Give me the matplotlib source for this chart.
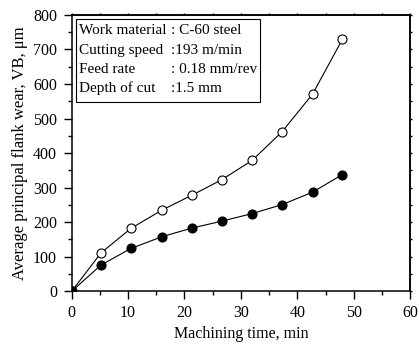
import matplotlib
matplotlib.use('Agg')
from matplotlib import pyplot as plt
from matplotlib.patches import Rectangle
from matplotlib.ticker import MultipleLocator, NullFormatter

plt.rcParams['font.family'] = ['Liberation Serif', 'DejaVu Serif']

# machining time, min
time = [0, 5.2, 10.5, 16.0, 21.3, 26.6, 32.0, 37.3, 42.7, 48.0]
# flank wear VB, um
wear_open = [0, 111, 182, 235, 278, 323, 379, 462, 571, 730]
wear_filled = [0, 76, 124, 158, 183, 203, 225, 251, 287, 338]

conditions = ['Work material', 'Cutting speed', 'Feed rate', 'Depth of cut']
values = [': C-60 steel', ':193 m/min', ': 0.18 mm/rev', ':1.5 mm']

fig = plt.figure(figsize=(4.19, 3.47), dpi=100)
ax = fig.add_axes([0.171, 0.1605, 0.808, 0.7965])

ax.plot(time, wear_open, color='black', lw=0.8, marker='o', ms=6.5,
	mfc='white', mec='black', mew=0.8)
ax.plot(time, wear_filled, color='black', lw=0.8, marker='o', ms=6.5,
	mfc='black', mec='black', mew=0.8)

ax.set_xlim(0, 60)
ax.set_ylim(0, 800)
ax.xaxis.set_major_locator(MultipleLocator(10))
ax.xaxis.set_minor_locator(MultipleLocator(5))
ax.yaxis.set_major_locator(MultipleLocator(100))
ax.yaxis.set_minor_locator(MultipleLocator(50))
ax.tick_params(which='both', direction='out', labelsize=11.5, width=1.0)
ax.tick_params(which='major', length=5.5)
ax.tick_params(which='minor', length=3)
ax.tick_params(axis='x', which='major', pad=4)
ax.tick_params(axis='y', which='major', pad=5)
for s in ax.spines.values():
	s.set_linewidth(1.1)

# tiny ticks on the top and right frame
top = ax.secondary_xaxis('top')
top.xaxis.set_major_locator(MultipleLocator(10))
top.xaxis.set_minor_locator(MultipleLocator(5))
top.xaxis.set_major_formatter(NullFormatter())
right = ax.secondary_yaxis('right')
right.yaxis.set_major_locator(MultipleLocator(100))
right.yaxis.set_minor_locator(MultipleLocator(50))
right.yaxis.set_major_formatter(NullFormatter())
for sec in (top, right):
	sec.tick_params(which='both', direction='out', length=1.5, width=1.0)
	for s in sec.spines.values():
		s.set_linewidth(1.1)

ax.set_xlabel('Machining time, min', fontsize=11.5, labelpad=4)
ax.set_ylabel('Average principal flank wear, VB, μm', fontsize=12, labelpad=4)

ax.add_patch(Rectangle((0.012, 0.685), 0.545, 0.3, transform=ax.transAxes,
	fill=False, lw=0.8, ec='black'))
line_y = [0.943, 0.873, 0.803, 0.735]
for y, c, v in zip(line_y, conditions, values):
	ax.text(0.022, y, c, transform=ax.transAxes, fontsize=11, va='center')
	ax.text(0.293, y, v, transform=ax.transAxes, fontsize=11, va='center')

plt.savefig('out.png', dpi=100)
